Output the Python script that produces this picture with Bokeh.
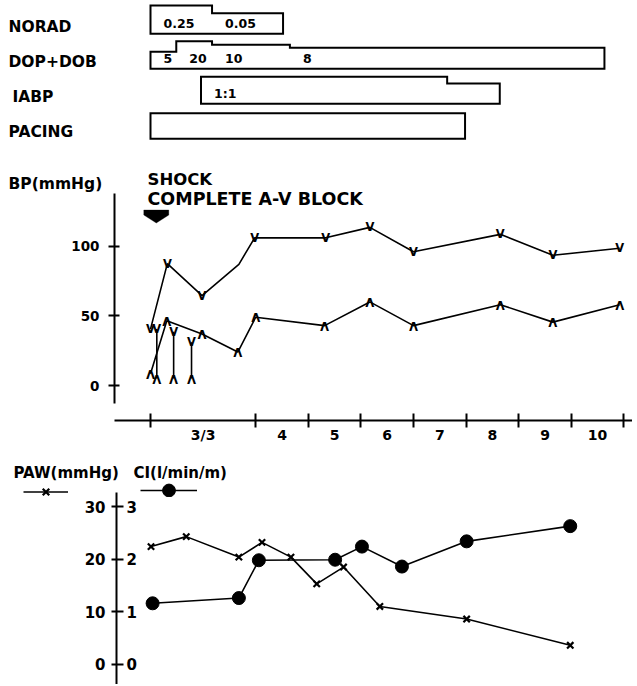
import numpy as np
from bokeh.plotting import figure
from bokeh.models import (Range1d, FixedTicker, Label, Legend, LegendItem, PolyAnnotation)
from bokeh.layouts import column
from bokeh.embed import file_html
from bokeh.resources import INLINE
from bokeh.core.properties import value

# ---------------- data ----------------
# time axis: day 3 (3/3) is drawn twice as wide as the following days
day_edges = [0, 2, 3, 4, 5, 6, 7, 8, 9]
day_labels = ["3/3", "4", "5", "6", "7", "8", "9", "10"]

# therapy bars (start, end in time units; level = drawn bar height; dose text)
therapy_rows = ["NORAD", "DOP+DOB", "IABP", "PACING"]
norad_start = [0.00, 1.17]
norad_end = [1.17, 2.52]
norad_level = [0.81, 0.59]
norad_text = ["0.25", "0.05"]

dop_start = [0.00, 0.49, 1.17, 2.65]
dop_end = [0.49, 1.17, 2.65, 8.63]
dop_level = [0.49, 0.79, 0.69, 0.60]
dop_text = ["5", "20", "10", "8"]

iabp_start = [0.96, 5.64]
iabp_end = [5.64, 6.64]
iabp_level = [0.77, 0.58]
iabp_text = ["1:1", ""]

pacing_start = [0.00]
pacing_end = [5.98]
pacing_level = [0.73]
pacing_text = [""]

# blood pressure (mmHg)
shock_t = 0.11
sys_t = [0.00, 0.32, 0.98, 1.68, 1.98, 3.33, 4.17, 5.00, 6.65, 7.65, 8.92]
sys_bp = [40.5, 87.5, 64.5, 87.0, 106.0, 106.0, 113.5, 96.0, 108.5, 93.5, 98.5]
sys_marked = [True, True, True, False, True, True, True, True, True, True, True]
dia_t = [0.00, 0.31, 0.98, 1.66, 2.00, 3.31, 4.17, 5.00, 6.65, 7.65, 8.92]
dia_bp = [8.5, 46.5, 37.0, 24.0, 49.0, 43.0, 60.0, 43.0, 58.0, 45.5, 58.0]
cuff_t = [0.12, 0.44, 0.78]
cuff_sys = [40.5, 38.5, 31.0]
cuff_dia = [5.0, 5.0, 5.0]
bp_ticks = [0, 50, 100]

# wedge pressure (mmHg) and cardiac index (l/min/m2)
paw_t = [0.01, 0.68, 1.68, 2.12, 2.67, 3.16, 3.67, 4.36, 6.01, 7.98]
paw = [22.4, 24.3, 20.4, 23.2, 20.4, 15.3, 18.5, 11.0, 8.6, 3.6]
ci_t = [0.04, 1.68, 2.06, 3.51, 4.02, 4.78, 6.01, 7.98]
ci = [1.16, 1.26, 1.98, 1.99, 2.24, 1.86, 2.34, 2.63]
paw_ticks = [0, 10, 20, 30]
ci_ticks = [0, 1, 2, 3]

# ---------------- layout helpers ----------------
X0_PX = 150.0        # page x of time 0
PX_PER_T = 52.6      # pixels per time unit
FIG_W = 632
FONT = value("DejaVu Sans")
NAN = float("nan")


def t_range(left_px, right_px):
    return Range1d(start=(left_px - X0_PX) / PX_PER_T, end=(right_px - X0_PX) / PX_PER_T)


def t_at(px):
    return (px - X0_PX) / PX_PER_T


def make_fig(height, left_px, ymin, ymax, overlap=0, **kw):
    p = figure(width=FIG_W, height=height, x_range=t_range(left_px, FIG_W),
               y_range=Range1d(ymin, ymax), min_border_left=int(left_px), min_border_right=0,
               min_border_top=0, output_backend="svg", toolbar_location=None,
               frame_align=False, margin=(-overlap, 0, 0, 0), **kw)
    p.grid.visible = False
    p.outline_line_color = None
    p.background_fill_alpha = 0
    p.border_fill_alpha = 0
    return p


def bold_label(x, y, text, size):
    return Label(x=x, y=y, text=text, text_baseline="middle", text_font="DejaVu Sans",
                 text_font_style="bold", text_font_size=size, text_color="black")


# ---------------- top: therapy bars + headings (page y 0..209) ----------------
ROW_BASE_PX = 138.3   # page y of the PACING bar bottom
ROW_PX = 35.0
P1_H = 209
ROW_LABEL_INDENT = [0, 0, 4, 0]


def row_y(py):
    return (ROW_BASE_PX - py) / ROW_PX


p1 = make_fig(P1_H, 0, row_y(P1_H), row_y(0), x_axis_location=None, y_axis_location=None,
              min_border_bottom=0)

rows = [
    (norad_start, norad_end, norad_level, norad_text),
    (dop_start, dop_end, dop_level, dop_text),
    (iabp_start, iabp_end, iabp_level, iabp_text),
    (pacing_start, pacing_end, pacing_level, pacing_text),
]
n_rows = len(rows)
for i, (st, en, lv, tx) in enumerate(rows):
    base = n_rows - 1 - i
    xs = [st[0]]
    ys = [base]
    for s, e, l in zip(st, en, lv):
        xs += [s, e]
        ys += [base + l, base + l]
    xs.append(en[-1])
    ys.append(base)
    p1.patch(xs, ys, fill_color="white", line_color="black", line_width=2, line_join="miter")
    lab_x = [s for s, t in zip(st, tx) if t]
    lab_t = [t for t in tx if t]
    if lab_t:
        p1.text(x=lab_x, y=[base + 0.29] * len(lab_x), text=lab_t, x_offset=13,
                text_align="left", text_baseline="middle", text_font=FONT,
                text_font_style="bold", text_font_size="12.5px", text_color="black")

p1.text(x=[t_at(8)] * n_rows, y=[n_rows - 1 - i + 0.2 for i in range(n_rows)],
        text=therapy_rows, x_offset=ROW_LABEL_INDENT, text_align="left",
        text_baseline="middle", text_font=FONT, text_font_style="bold",
        text_font_size="15.5px", text_color="black")

p1.add_layout(bold_label(t_at(8), row_y(183), "BP(mmHg)", "15.5px"))
p1.add_layout(bold_label(t_at(147), row_y(178.5), "SHOCK", "16.5px"))
p1.add_layout(bold_label(t_at(147), row_y(198), "COMPLETE A-V BLOCK", "17.5px"))

# ---------------- middle: blood pressure (page y 191..448) ----------------
BP0_PX = 385.0
PX_PER_MMHG = 1.393
P2_TOP = 191
P2_OVERLAP = P1_H - P2_TOP


def bp_y(py):
    return (BP0_PX - py) / PX_PER_MMHG


p2 = make_fig(257, 114, bp_y(420), bp_y(P2_TOP), overlap=P2_OVERLAP, min_border_bottom=28)

mid = [(a + b) / 2 for a, b in zip(day_edges[:-1], day_edges[1:])]
xa = p2.xaxis[0]
xa.ticker = FixedTicker(ticks=mid, minor_ticks=day_edges)
xa.major_label_overrides = {float(m): lab for m, lab in zip(mid, day_labels)}
xa.major_tick_in = 0
xa.major_tick_out = 0
xa.minor_tick_in = 7
xa.minor_tick_out = 7
xa.minor_tick_line_width = 2
xa.minor_tick_line_color = "black"
xa.axis_line_width = 2
xa.axis_line_color = "black"
xa.major_label_standoff = -1
xa.major_label_text_font = "DejaVu Sans"
xa.major_label_text_font_style = "bold"
xa.major_label_text_font_size = "14px"
xa.major_label_text_color = "black"

ya = p2.yaxis[0]
ya.ticker = FixedTicker(ticks=bp_ticks, minor_ticks=[])
ya.bounds = (-13, 138)
ya.major_tick_in = 5
ya.major_tick_out = 6
ya.major_tick_line_width = 2
ya.major_tick_line_color = "black"
ya.axis_line_width = 2
ya.axis_line_color = "black"
ya.major_label_standoff = 9
ya.major_label_text_font = "DejaVu Sans"
ya.major_label_text_font_style = "bold"
ya.major_label_text_font_size = "13.5px"
ya.major_label_text_color = "black"

p2.line(sys_t, sys_bp, line_color="black", line_width=1.6)
p2.line(dia_t, dia_bp, line_color="black", line_width=1.6)
p2.segment(x0=cuff_t, y0=cuff_sys, x1=cuff_t, y1=cuff_dia, line_color="black", line_width=1.6)

vt = [t for t, m in zip(sys_t, sys_marked) if m] + cuff_t
vy = [b for b, m in zip(sys_bp, sys_marked) if m] + cuff_sys
p2.text(x=vt, y=vy, text=["V"] * len(vt), text_align="center", text_baseline="alphabetic",
        text_font=FONT, text_font_style="bold", text_font_size="11.5px", text_color="black")
at = dia_t + cuff_t
ay = dia_bp + cuff_dia
p2.text(x=at, y=ay, text=["V"] * len(at), angle=np.pi, text_align="center",
        text_baseline="alphabetic", text_font=FONT, text_font_style="bold",
        text_font_size="11.5px", text_color="black")

# shock marker: flat down-pointing arrow centred on the shock time
hw = 12.5 / PX_PER_T
p2.add_layout(PolyAnnotation(
    xs=[shock_t - hw, shock_t + hw, shock_t + hw, shock_t, shock_t - hw],
    ys=[bp_y(209.5), bp_y(209.5), bp_y(214.5), bp_y(222.5), bp_y(214.5)],
    fill_color="black", fill_alpha=1.0, line_color="black", line_width=1))

# ---------------- bottom: PAW and CI ----------------
PAW0_PX = 663.7
PX_PER_PAW = 5.25
HEAD_TOP_PX = 448.0
HEAD_BOTTOM_PX = 497.0
PAW_TOP_PX = 492.0
PAGE_BOTTOM = 684.0


def paw_y(py):
    return (PAW0_PX - py) / PX_PER_PAW


# header strip with the series names and keys (page y 448..497)
p3h = make_fig(int(HEAD_BOTTOM_PX - HEAD_TOP_PX), 0, 0, 1, x_axis_location=None,
               y_axis_location=None, min_border_bottom=0)


def hy(py):
    return (HEAD_BOTTOM_PX - py) / (HEAD_BOTTOM_PX - HEAD_TOP_PX)


p3h.add_layout(bold_label(t_at(13), hy(472), "PAW(mmHg)", "15px"))
p3h.add_layout(bold_label(t_at(133), hy(472), "CI(l/min/m)", "15px"))
# key glyphs (no data of their own; only used to draw the legend samples)
key_paw_line = p3h.line(x=[NAN], y=[NAN], line_color="black", line_width=1.6)
key_paw_pts = p3h.scatter(x=[NAN], y=[NAN], marker="x", size=9, line_color="black",
                          line_width=2.2)
key_ci_line = p3h.line(x=[NAN], y=[NAN], line_color="black", line_width=1.6)
key_ci_pts = p3h.scatter(x=[NAN], y=[NAN], marker="circle", size=13, fill_color="black",
                         line_color="black")


def key_legend(renderers, left_px, width, height, center_py):
    bottom_px = center_py + height / 2
    return Legend(items=[LegendItem(label="", renderers=renderers)],
                  location=(left_px, HEAD_BOTTOM_PX - bottom_px), padding=0, margin=0,
                  spacing=0, glyph_width=width, glyph_height=height, label_standoff=0,
                  label_width=0, label_height=height, label_text_font_size="1px",
                  border_line_color=None, background_fill_alpha=0)


p3h.add_layout(key_legend([key_paw_line, key_paw_pts], 23, 45, 23, 491.5))
p3h.add_layout(key_legend([key_ci_line, key_ci_pts], 140, 57, 32, 490))

# main PAW / CI panel (page y 492..684), overlapping the header strip slightly
p3 = make_fig(int(PAGE_BOTTOM - PAW_TOP_PX), 116, paw_y(PAGE_BOTTOM), paw_y(PAW_TOP_PX),
              overlap=int(HEAD_BOTTOM_PX - PAW_TOP_PX), x_axis_location=None,
              min_border_bottom=0)
p3.extra_y_ranges = {"ci": Range1d(paw_y(PAGE_BOTTOM) / 10, paw_y(PAW_TOP_PX) / 10)}

yb = p3.yaxis[0]
yb.ticker = FixedTicker(ticks=paw_ticks, minor_ticks=[])
yb.major_tick_in = 7
yb.major_tick_out = 5
yb.major_tick_line_width = 2
yb.major_tick_line_color = "black"
yb.axis_line_width = 2
yb.axis_line_color = "black"
yb.major_label_standoff = 6
yb.major_label_text_font = "DejaVu Sans"
yb.major_label_text_font_style = "bold"
yb.major_label_text_font_size = "15px"
yb.major_label_text_color = "black"

p3.text(x=[p3.x_range.start] * len(ci_ticks), y=ci_ticks, text=[str(c) for c in ci_ticks],
        y_range_name="ci", x_offset=10, text_align="left", text_baseline="middle",
        text_font=FONT, text_font_style="bold", text_font_size="15px", text_color="black")

p3.line(paw_t, paw, line_color="black", line_width=1.6)
p3.scatter(paw_t, paw, marker="x", size=9, line_color="black", line_width=2.2)
p3.line(ci_t, ci, y_range_name="ci", line_color="black", line_width=1.6)
p3.scatter(ci_t, ci, y_range_name="ci", marker="circle", size=13,
           fill_color="black", line_color="black")

layout = column(p1, p2, p3h, p3, spacing=0, styles={"background-color": "white"})
open("out.html", "w").write(file_html(layout, INLINE))
